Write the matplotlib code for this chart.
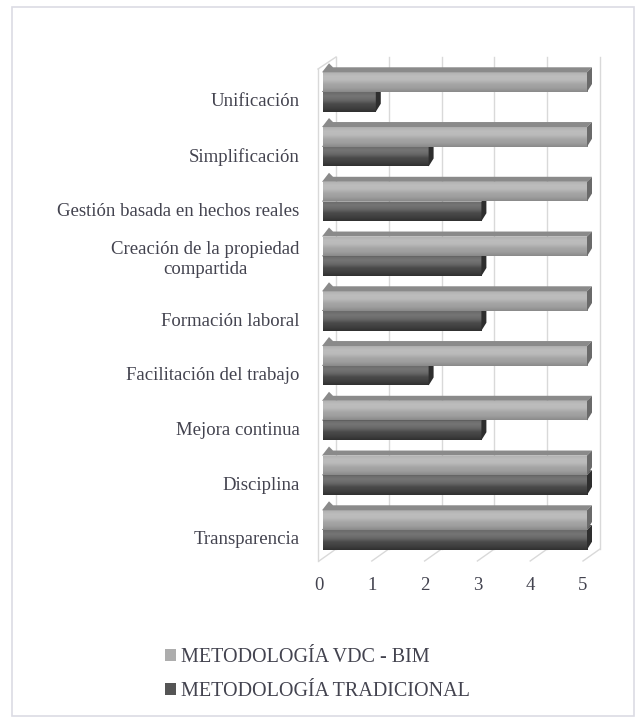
import numpy as np
import matplotlib
matplotlib.use("Agg")
import matplotlib.pyplot as plt
from matplotlib.patches import Polygon, Rectangle, Patch
from matplotlib.colors import LinearSegmentedColormap
from matplotlib.transforms import ScaledTranslation

## data ##
categorias = ["Unificación", "Simplificación", "Gestión basada en hechos reales",
              "Creación de la propiedad\ncompartida", "Formación laboral",
              "Facilitación del trabajo", "Mejora continua", "Disciplina", "Transparencia"]
vdc_bim = [5, 5, 5, 5, 5, 5, 5, 5, 5]
tradicional = [1, 2, 3, 3, 3, 2, 3, 5, 5]
series_names = ["METODOLOGÍA VDC - BIM", "METODOLOGÍA TRADICIONAL"]
xticks = [0, 1, 2, 3, 4, 5]

plt.rcParams['font.family'] = ['Liberation Serif', 'DejaVu Serif']
txt = '#43434f'
grid_c = '#d9d9d9'

W, H, DPI = 641, 718, 100
fig = plt.figure(figsize=(W / DPI, H / DPI), dpi=DPI)

# outer chart border
fig.patches.append(Rectangle((12 / W, 1 - 716 / H), 622 / W, 709 / H, transform=fig.transFigure,
                             fill=False, edgecolor='#dcdce4', lw=1.2))

# plot area (pixels): x 0->323, 5->587 ; first pair centre 92, pitch 54.75
px_x = 264 / 5
px_y = 54.75
ytop_v, ybot_v = -1.0, 8.6
top_px = 92 + ytop_v * px_y
bot_px = 92 + ybot_v * px_y
ax = fig.add_axes([323 / W, 1 - bot_px / H, 264 / W, (bot_px - top_px) / H])
ax.set_xlim(0, 5)
ax.set_ylim(ybot_v, ytop_v)
for s in ax.spines.values():
    s.set_visible(False)
ax.patch.set_alpha(0)

def dxd(p):
    return p / px_x

def dyd(p):
    return p / px_y

# 3d walls: back wall grid, floor, left wall edge
floor_y = ybot_v - dyd(bot_px - 561)
back_floor_y = floor_y - dyd(12)
wall_top = ytop_v + dyd(57 - top_px)
for v in xticks:
    ax.plot([v + dxd(13), v + dxd(13)], [wall_top, back_floor_y], color=grid_c, lw=1, zorder=0, clip_on=False)
    ax.plot([v - dxd(4), v + dxd(13)], [floor_y, back_floor_y], color=grid_c, lw=1, zorder=0, clip_on=False)
ax.plot([-dxd(5), -dxd(5)], [wall_top + dyd(12), floor_y], color=grid_c, lw=1, zorder=0, clip_on=False)
ax.plot([-dxd(5), dxd(13)], [wall_top + dyd(12), wall_top], color=grid_c, lw=1, zorder=0, clip_on=False)

h = 0.36
# colour stops from bottom to top of the front face
cm_vdc = LinearSegmentedColormap.from_list('vdc', ['#8a8a8a', '#9e9e9e', '#a6a6a6', '#bababa', '#bdbdbd', '#b0b0b0'])
cm_tra = LinearSegmentedColormap.from_list('tra', ['#303030', '#404040', '#4a4a4a', '#686868', '#757575', '#6a6a6a'])
grad = np.linspace(0, 1, 64).reshape(-1, 1)

def bar3d(y, w, cmap, top_c, side_c, z):
    y0, y1 = y - h / 2, y + h / 2
    bars = ax.barh([y], [w], height=h, color='none', edgecolor='none', zorder=z)
    rect = bars.patches[0]
    im = ax.imshow(grad, extent=(0, w, y1, y0), aspect='auto', cmap=cmap, vmin=0, vmax=1,
                   origin='lower', zorder=z, interpolation='bilinear')
    im.set_clip_path(rect)
    dx, dy = dxd(5), dyd(5)
    ax.add_patch(Polygon([(-dxd(1), y0), (w, y0), (w + dx, y0 - dy), (dx * 2, y0 - dy), (dx * 1.2, y0 - dy * 1.8)],
                         closed=True, facecolor=top_c, edgecolor='none', zorder=z, clip_on=False))
    ax.add_patch(Polygon([(w, y0), (w + dx, y0 - dy), (w + dx, y1 - dy * 1.6), (w, y1)],
                         closed=True, facecolor=side_c, edgecolor='none', zorder=z, clip_on=False))

ypos = np.arange(len(categorias))
for i in ypos:
    bar3d(i + h / 2, tradicional[i], cm_tra, '#555555', '#2e2e2e', 2 + i * 0.01)
    bar3d(i - h / 2, vdc_bim[i], cm_vdc, '#8a8a8a', '#6a6a6a', 3 + i * 0.01)

ax.set_xlim(0, 5)
ax.set_ylim(ybot_v, ytop_v)

ax.set_yticks(ypos)
ax.set_yticklabels(categorias, fontsize=13.5, color=txt, multialignment='center')
ax.tick_params(axis='y', length=0, pad=17)
for lab in ax.get_yticklabels():
    off = 0 if '\n' in lab.get_text() else 8
    lab.set_transform(lab.get_transform() + ScaledTranslation(0, -off / DPI, fig.dpi_scale_trans))

ax.set_xticks(xticks)
ax.set_xticklabels([str(v) for v in xticks], fontsize=13.5, color=txt)
ax.tick_params(axis='x', length=0, pad=10)
for lab in ax.get_xticklabels():
    lab.set_transform(lab.get_transform() + ScaledTranslation(-4 / DPI, 0, fig.dpi_scale_trans))

handles = [Patch(facecolor='#adadad', edgecolor='none'), Patch(facecolor='#555555', edgecolor='none')]
fig.legend(handles, series_names, loc='upper left', bbox_to_anchor=(165 / W, 1 - 648 / H),
           frameon=False, fontsize=14.5, labelcolor=txt, handlelength=0.55, handleheight=0.55,
           handletextpad=0.25, labelspacing=0.75, borderaxespad=0, borderpad=0)

fig.savefig('out.png', dpi=DPI)
